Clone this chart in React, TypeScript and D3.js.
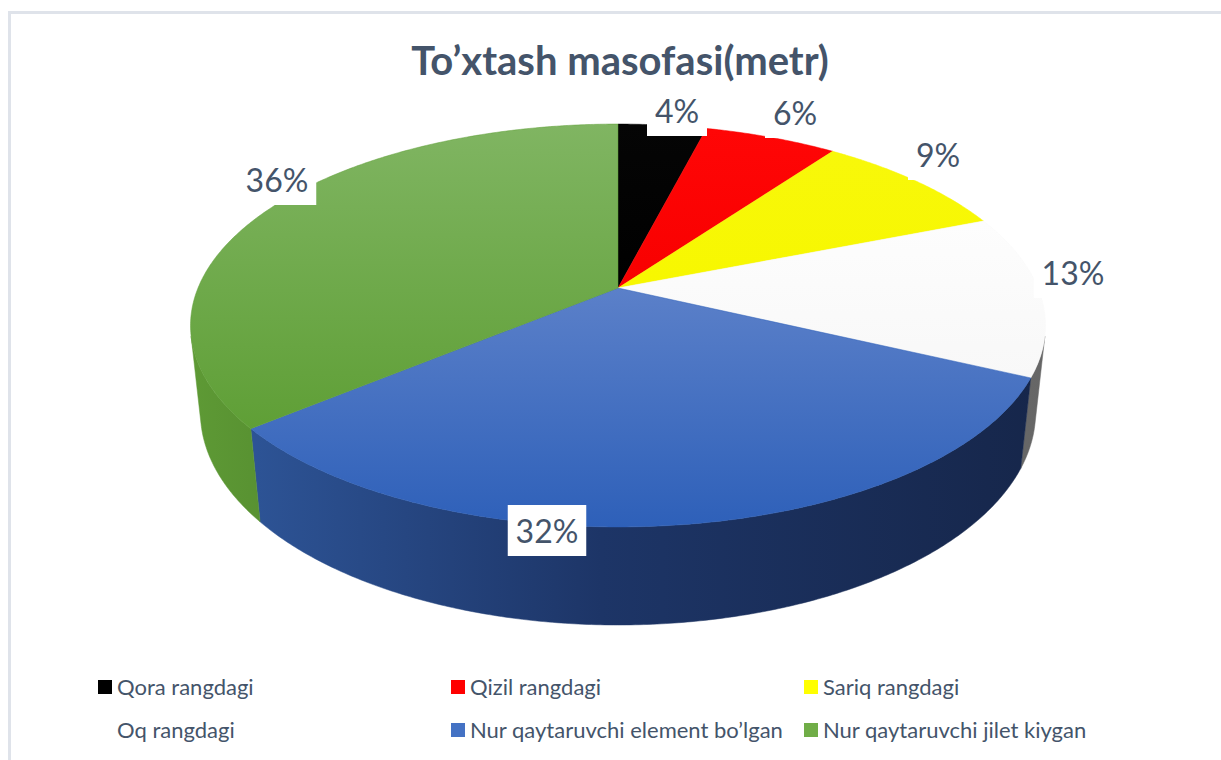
import React from 'react';
import * as d3 from 'd3';

const categories = [
  'Qora rangdagi',
  'Qizil rangdagi',
  'Sariq rangdagi',
  'Oq rangdagi',
  'Nur qaytaruvchi element bo’lgan',
  'Nur qaytaruvchi jilet kiygan',
];
const values = [4, 6, 9, 13, 32, 36];

const legendColors = ['#000000', '#ff0000', '#ffff00', '#ffffff', '#4472c4', '#70ad47'];
const topColors = [
  ['#050505', '#000000'],
  ['#ff0606', '#f80000'],
  ['#f8f80a', '#f7f700'],
  ['#fdfdfd', '#f8f8f8'],
  ['#5b80c9', '#2e60b9'],
  ['#80b562', '#5f9f36'],
];
// side wall shading, left -> middle -> right
const wallColors = [
  ['#000000', '#000000', '#000000'],
  ['#a00000', '#780000', '#600000'],
  ['#a0a000', '#787800', '#606000'],
  ['#9a9a9a', '#7a7a7a', '#666666'],
  ['#30599e', '#1d3567', '#16264a'],
  ['#5e9a35', '#3d6a22', '#27451a'],
];

// where Excel put the data labels (text centre, baseline)
const labelAnchors = [
  [677, 123],
  [795, 125],
  [938, 167],
  [1073, 285],
  [547, 543],
  [277, 192],
];

const W = 1221;
const H = 760;
const FONT = 'Lato, "Open Sans", sans-serif';
const TEXT = '#44546a';

// 3d projection of a unit disk seen from above with some perspective
const cx0 = 618;
const cy0 = 288;
const k = 420;
const elev = Math.asin(0.463);
const D = 4.76;
const depth = 0.235;

function project(phi: number, r: number, z: number): [number, number] {
  const X = r * Math.sin(phi);
  const Y = -r * Math.cos(phi);
  const cy = -Y * Math.sin(elev) + z * Math.cos(elev);
  const cz = Y * Math.cos(elev) + z * Math.sin(elev);
  const s = D / (D - cz);
  return [cx0 + k * X * s, cy0 - k * cy * s];
}

const STEP = Math.PI / 360;

function arcPoints(a0: number, a1: number, z: number) {
  const n = Math.max(2, Math.ceil(Math.abs(a1 - a0) / STEP));
  return d3.range(n + 1).map((j) => project(a0 + ((a1 - a0) * j) / n, 1, z));
}

export default function App() {
  const pie = d3.pie<number>().sort(null).value((d) => d);
  const arcs = pie(values);
  const total = d3.sum(values);
  const fmt = d3.format('.0%');
  const line = d3.line();

  // silhouette of the cylinder: tangent points seen from the camera
  const tang = Math.asin(1 / (D * Math.cos(elev)));
  const wallFrom = Math.PI / 2 + tang;
  const wallTo = (3 * Math.PI) / 2 - tang;

  const leftX = project((3 * Math.PI) / 2, 1, 0)[0] - 10;
  const rightX = project(Math.PI / 2, 1, 0)[0] + 10;

  const walls = arcs.map((a, i) => {
    const from = Math.max(a.startAngle, wallFrom);
    const to = Math.min(a.endAngle, wallTo);
    if (to <= from) return null;
    const pts = [...arcPoints(from, to, 0), ...arcPoints(to, from, -depth)];
    return (
      <path key={`w${i}`} d={line(pts) + 'Z'} fill={`url(#wall${i})`} stroke={`url(#wall${i})`} strokeWidth={0.5} />
    );
  });

  const tops = arcs.map((a, i) => {
    const pts: [number, number][] = [project(0, 0, 0), ...arcPoints(a.startAngle, a.endAngle, 0)];
    return (
      <path
        key={`t${i}`}
        d={line(pts) + 'Z'}
        fill={`url(#top${i})`}
        stroke={topColors[i][1]}
        strokeWidth={0.5}
      />
    );
  });

  const labels = values.map((v, i) => {
    const txt = fmt(v / total);
    const [lx, ly] = labelAnchors[i];
    const tw = (txt.length - 1) * 18.5 + 25.5;
    return (
      <g key={`l${i}`}>
        <rect x={lx - tw / 2 - 8} y={ly - 38} width={tw + 16} height={51} fill="#ffffff" />
        <text x={lx} y={ly} textAnchor="middle" fontFamily={FONT} fontSize={32} fill={TEXT}>
          {txt}
        </text>
      </g>
    );
  });

  const legend = categories.map((c, i) => {
    const x = 98 + (i % 3) * 353;
    const y = 680 + Math.floor(i / 3) * 43;
    return (
      <g key={`g${i}`} transform={`translate(${x},${y})`}>
        <rect width={14} height={14} fill={legendColors[i]} />
        <text x={19} y={15} fontFamily={FONT} fontSize={22} fill={TEXT}>
          {c}
        </text>
      </g>
    );
  });

  return (
    <svg width={W} height={H} style={{ position: 'absolute', left: 0, top: 0, background: '#fff' }}>
      <defs>
        {topColors.map((c, i) => (
          <linearGradient key={i} id={`top${i}`} x1="0" y1="0" x2="0" y2="1">
            <stop offset="0%" stopColor={c[0]} />
            <stop offset="100%" stopColor={c[1]} />
          </linearGradient>
        ))}
        {wallColors.map((c, i) => (
          <linearGradient key={i} id={`wall${i}`} gradientUnits="userSpaceOnUse" x1={leftX} y1={0} x2={rightX} y2={0}>
            <stop offset="0%" stopColor={c[0]} />
            <stop offset="48%" stopColor={c[1]} />
            <stop offset="100%" stopColor={c[2]} />
          </linearGradient>
        ))}
      </defs>
      <rect x={9.5} y={12.5} width={W + 20} height={H + 20} fill="#fff" stroke="#dfe3ea" strokeWidth={3} />
      <text x={620} y={75} textAnchor="middle" fontFamily={FONT} fontWeight={700} fontSize={40} fill={TEXT}>
        To’xtash masofasi(metr)
      </text>
      {walls}
      {tops}
      {labels}
      {legend}
    </svg>
  );
}
